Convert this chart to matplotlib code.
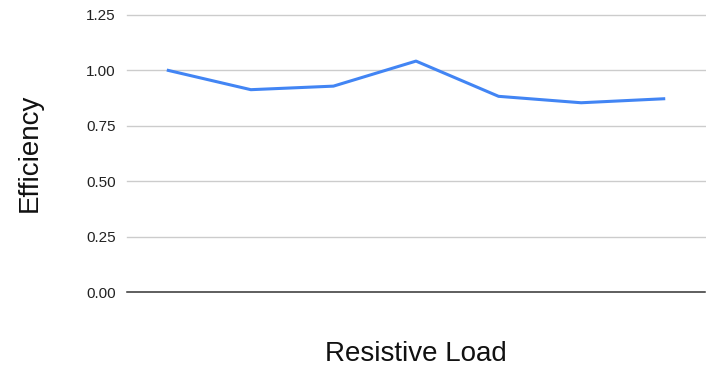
import matplotlib
matplotlib.use("Agg")
from matplotlib import pyplot as plt

plt.rcParams['font.family'] = ['Liberation Sans', 'DejaVu Sans']

# Efficiency for each resistive load step (no x labels in the original)
loads = list(range(7))
efficiency = [1.00, 0.913, 0.929, 1.042, 0.883, 0.854, 0.872]
yticks = [0.00, 0.25, 0.50, 0.75, 1.00, 1.25]

fig = plt.figure(figsize=(7.06, 3.68), dpi=100)
ax = fig.add_axes([127 / 706, 1 - 292 / 368, 578 / 706, 277 / 368])

ax.plot(loads, efficiency, color="#4285F4", linewidth=2.2, solid_joinstyle="round", zorder=3)

ax.set_xlim(-0.5, 6.5)
ax.set_ylim(0, 1.25)
ax.set_yticks(yticks)
ax.set_yticklabels(["%.2f" % t for t in yticks], fontsize=11, color="#222222")
ax.set_xticks([])

# gridlines, the zero line is darker
for t in yticks[1:]:
    ax.axhline(t, color="#cccccc", linewidth=1, zorder=1, clip_on=False)
ax.axhline(0, color="#333333", linewidth=1.1, zorder=2, clip_on=False)

for s in ax.spines.values():
    s.set_visible(False)
ax.tick_params(axis="y", length=0, pad=8)

fig.text(30 / 706, 1 - 153 / 368, "Efficiency", rotation=90, fontsize=20,
         ha="center", va="center", color="#111111")
fig.text(416 / 706, 1 - 354 / 368, "Resistive Load", fontsize=20,
         ha="center", va="center", color="#111111")

fig.savefig("out.png", dpi=100)
